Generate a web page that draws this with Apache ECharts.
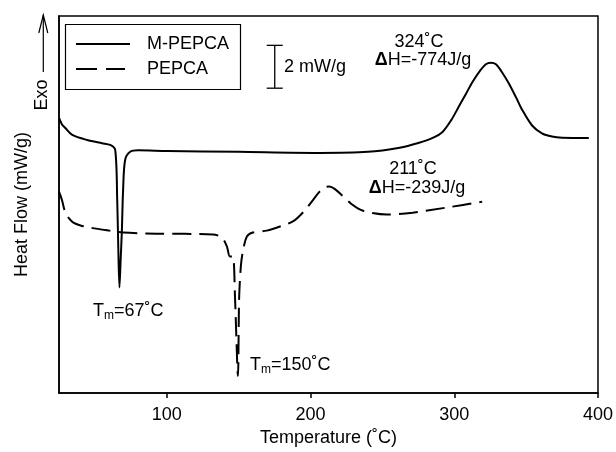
<!DOCTYPE html>
<html>
<head>
<meta charset="utf-8">
<script src="https://cdn.jsdelivr.net/npm/echarts@6/dist/echarts.min.js"></script>
<style>html,body{margin:0;padding:0;background:#fff;}#c{width:616px;height:452px;}</style>
</head>
<body>
<div id="c"></div>
<script>
// ---- data ----
const tempM = [25, 27, 29.4, 34.2, 44.6, 55, 60.6, 64.1, 65.5, 66.2, 67.05, 67.9, 68.7, 69.6, 71, 74.5, 80, 100, 150, 206, 240, 262, 275, 285, 292, 298, 303, 308, 313, 318, 322, 325.5, 329, 333, 338, 343, 347, 354, 361, 368, 375, 393.6];
const flowM = [12.84, 12.55, 12.37, 12.05, 11.81, 11.66, 11.58, 11.35, 9.02, 6.93, 4.93, 6.23, 7.49, 9.49, 10.88, 11.26, 11.33, 11.30, 11.26, 11.21, 11.26, 11.45, 11.67, 11.91, 12.2, 12.75, 13.35, 13.95, 14.55, 15.05, 15.35, 15.42, 15.35, 15.0, 14.45, 13.8, 13.25, 12.5, 12.12, 11.97, 11.92, 11.91];
const tempP = [25, 27, 29.4, 32, 35, 40, 46.7, 60, 69.6, 93.2, 132, 138.3, 141.8, 143.9, 146, 147.5, 149.5, 150.3, 151.5, 152.9, 155.7, 159.8, 169.5, 180, 188, 195, 201, 206, 210, 213, 217, 222, 228, 235, 243, 253, 271, 294, 319.4];
const flowP = [9.4, 9.02, 8.42, 8.15, 7.95, 7.82, 7.72, 7.58, 7.49, 7.44, 7.40, 7.26, 6.84, 6.37, 6.37, 4.37, 0.79, 4.37, 5.9, 6.6, 7.3, 7.49, 7.58, 7.8, 8.02, 8.45, 8.95, 9.38, 9.6, 9.64, 9.52, 9.22, 8.85, 8.55, 8.40, 8.33, 8.42, 8.65, 8.93];
const xTicks = [100, 200, 300, 400];
const seriesNames = ['M-PEPCA', 'PEPCA'];
const scaleBarTemp = 175.1;
const scaleBarLow = 14.23;
const scaleBarSize = 2; // mW/g

const font = '"Liberation Sans", Arial, Helvetica, sans-serif';
const zip = (a, b) => a.map((v, i) => [v, b[i]]);
const chart = echarts.init(document.getElementById('c'), null, {renderer: 'canvas'});

const txt = (x, y, text, extra) => ({
  type: 'text', x: x, y: y, z: 100,
  style: Object.assign({text: text, font: '18px ' + font, fill: '#000', textAlign: 'center', textVerticalAlign: 'middle'}, extra || {})
});
const richBase = {
  a: {fontSize: 18, fontFamily: font, color: '#000'},
  d: {fontSize: 18, fontFamily: font, color: '#000', fontWeight: 'bold'},
  s: {fontSize: 12, fontFamily: font, color: '#000', padding: [10, 0, 0, 0]}
};

chart.setOption({
  animation: false,
  backgroundColor: '#fff',
  grid: {left: 59, right: 17, top: 16, bottom: 58, show: true, borderColor: '#000', borderWidth: 1.5, containLabel: false},
  xAxis: {
    type: 'value', min: 25, max: 400,
    name: 'Temperature (˚C)', nameLocation: 'middle', nameGap: 36,
    nameTextStyle: {fontSize: 18, fontFamily: font, color: '#000'},
    axisLine: {lineStyle: {color: '#000', width: 1.5}},
    axisTick: {show: true, inside: false, length: 5, lineStyle: {color: '#000', width: 1.5}, customValues: xTicks},
    axisLabel: {fontSize: 18, fontFamily: font, color: '#000', margin: 13, customValues: xTicks},
    splitLine: {show: false}
  },
  yAxis: {
    type: 'value', min: 0, max: 17.6,
    name: 'Heat Flow (mW/g)', nameLocation: 'middle', nameGap: 28,
    nameTextStyle: {fontSize: 18, fontFamily: font, color: '#000'},
    axisLine: {show: true, lineStyle: {color: '#000', width: 1.5}},
    axisTick: {show: false}, axisLabel: {show: false}, splitLine: {show: false}
  },
  series: [
    {name: seriesNames[0], type: 'line', data: zip(tempM, flowM), showSymbol: false, symbol: 'none',
     smooth: 0.3, lineStyle: {color: '#000', width: 2, type: 'solid'}, z: 5},
    {name: seriesNames[1], type: 'line', data: zip(tempP, flowP), showSymbol: false, symbol: 'none',
     smooth: 0.3, lineStyle: {color: '#000', width: 2, type: [19, 8]}, z: 4},
    {type: 'custom', data: [[scaleBarTemp, scaleBarLow, scaleBarLow + scaleBarSize]], z: 6,
     renderItem: function (params, api) {
       const t = api.coord([api.value(0), api.value(2)]);
       const b = api.coord([api.value(0), api.value(1)]);
       const hw = 8, st = {stroke: '#000', lineWidth: 1.3};
       return {type: 'group', children: [
         {type: 'line', shape: {x1: t[0], y1: t[1], x2: b[0], y2: b[1]}, style: st},
         {type: 'line', shape: {x1: t[0] - hw, y1: t[1], x2: t[0] + hw, y2: t[1]}, style: st},
         {type: 'line', shape: {x1: b[0] - hw, y1: b[1], x2: b[0] + hw, y2: b[1]}, style: st}
       ]};
     }}
  ],
  graphic: [
    // legend box
    {type: 'rect', shape: {x: 65.5, y: 24.5, width: 175, height: 65}, style: {fill: '#fff', stroke: '#000', lineWidth: 1.2}, z: 90},
    {type: 'line', shape: {x1: 76, y1: 44, x2: 130, y2: 44}, style: {stroke: '#000', lineWidth: 2}, z: 91},
    {type: 'line', shape: {x1: 76, y1: 69, x2: 125, y2: 69}, style: {stroke: '#000', lineWidth: 2, lineDash: [21, 9]}, z: 91},
    txt(147, 44, seriesNames[0], {textAlign: 'left'}),
    txt(147, 69, seriesNames[1], {textAlign: 'left'}),
    // scale bar label
    txt(284, 67, '2 mW/g', {textAlign: 'left'}),
    // Exo arrow
    {type: 'line', shape: {x1: 43.3, y1: 72, x2: 43.3, y2: 15}, style: {stroke: '#000', lineWidth: 1.2}, z: 90},
    {type: 'polyline', shape: {points: [[38.8, 33], [43.3, 15], [47.8, 33]]}, style: {stroke: '#000', lineWidth: 1.2, fill: null}, z: 90},
    {type: 'text', x: 42, y: 95, rotation: Math.PI / 2, z: 100,
     style: {text: 'Exo', font: '18px ' + font, fill: '#000', textAlign: 'center', textVerticalAlign: 'middle'}},
    // peak annotations
    txt(419, 42, '324˚C'),
    {type: 'text', x: 423, y: 60, z: 100, style: {text: '{d|Δ}{a|H=-774J/g}', rich: richBase, textAlign: 'center', textVerticalAlign: 'middle'}},
    txt(413, 169, '211˚C'),
    {type: 'text', x: 417, y: 188, z: 100, style: {text: '{d|Δ}{a|H=-239J/g}', rich: richBase, textAlign: 'center', textVerticalAlign: 'middle'}},
    {type: 'text', x: 93, y: 311, z: 100, style: {text: '{a|T}{s|m}{a|=67˚C}', rich: richBase, textAlign: 'left', textVerticalAlign: 'middle'}},
    {type: 'text', x: 250, y: 365, z: 100, style: {text: '{a|T}{s|m}{a|=150˚C}', rich: richBase, textAlign: 'left', textVerticalAlign: 'middle'}}
  ]
});
</script>
</body>
</html>
